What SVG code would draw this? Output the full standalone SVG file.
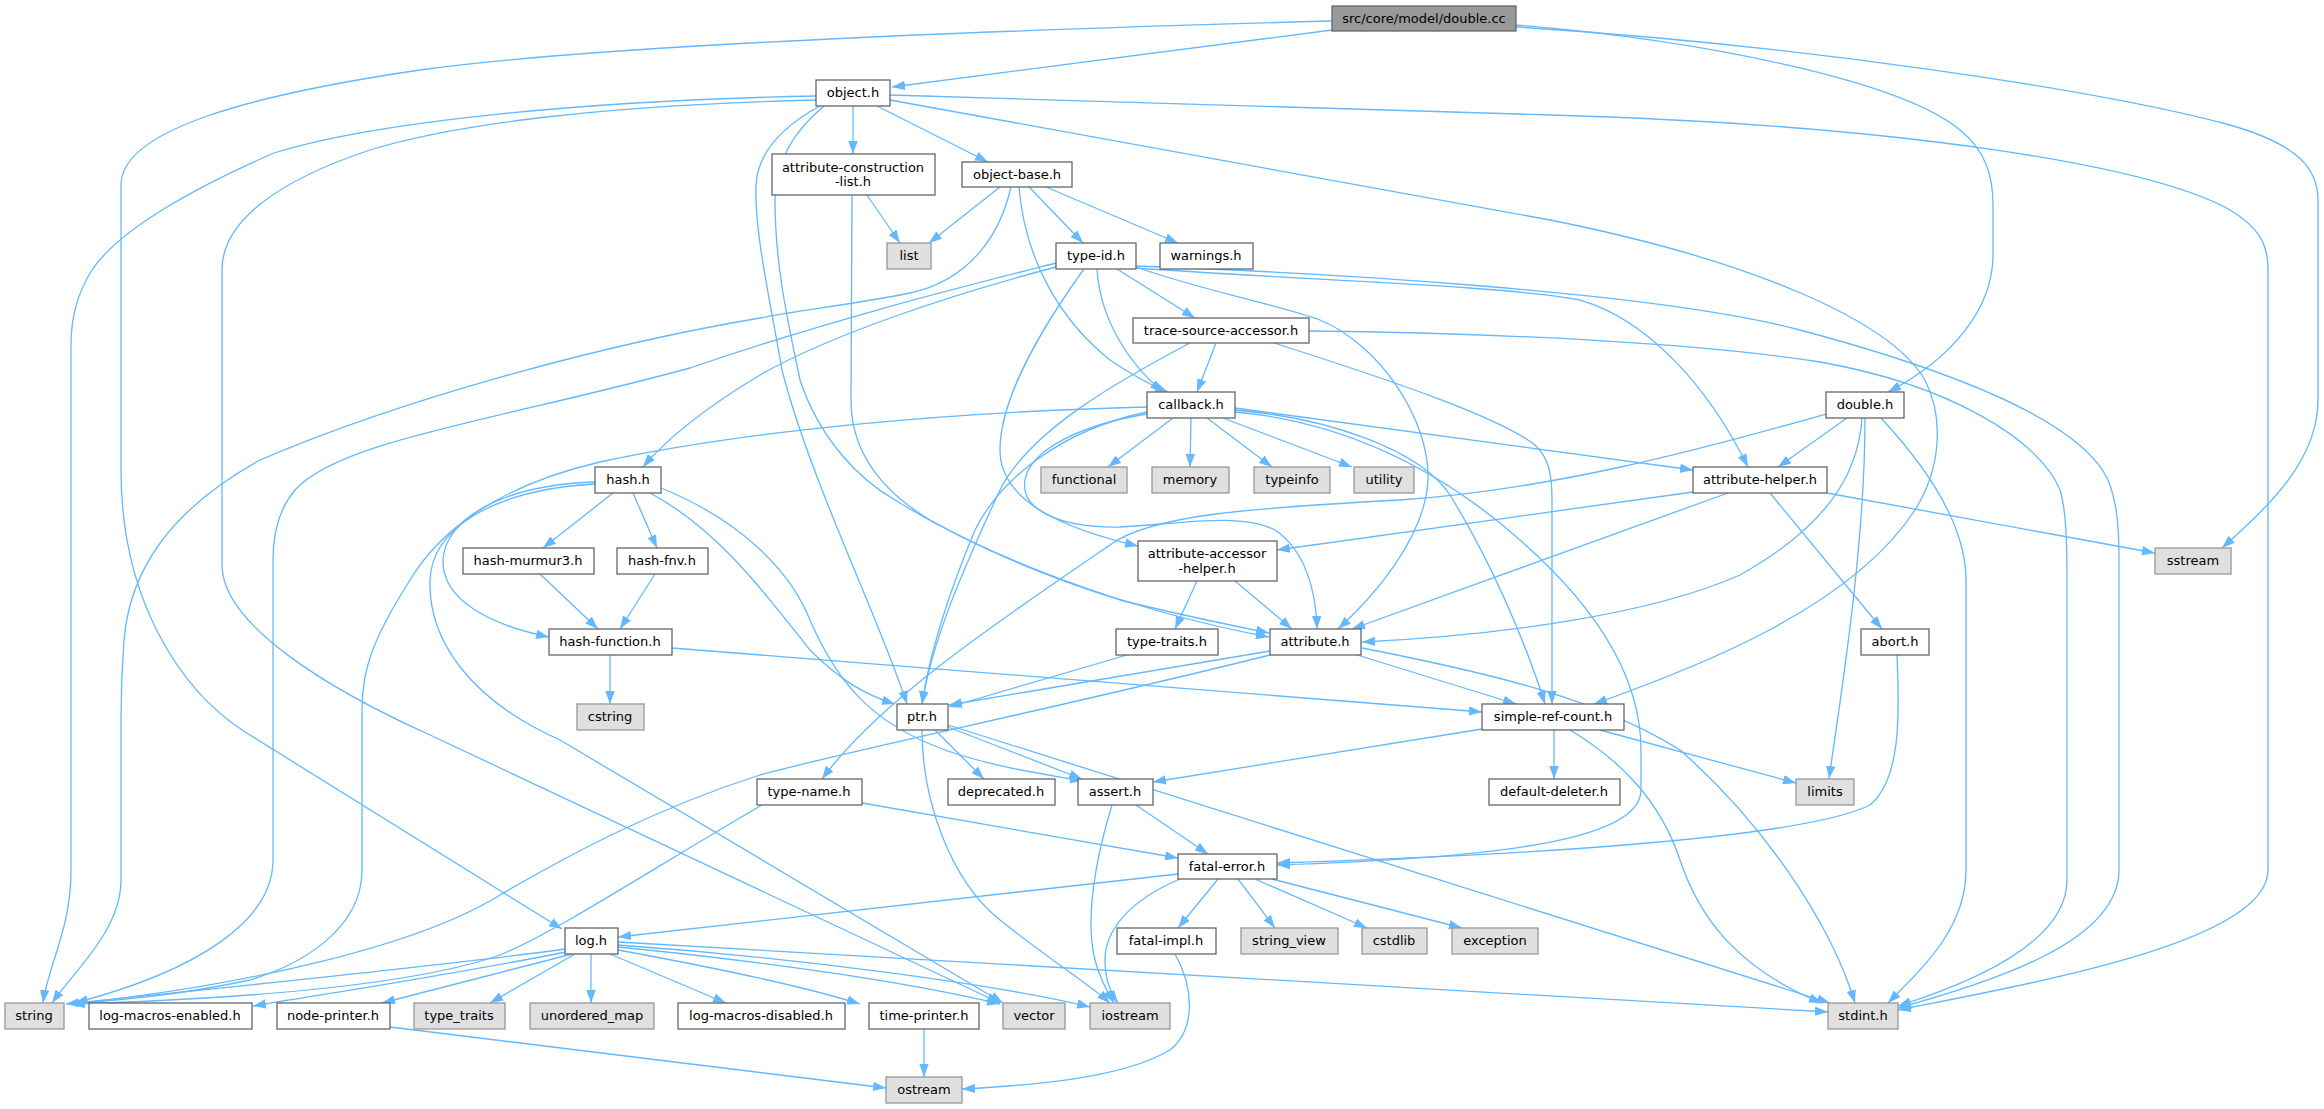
<svg xmlns="http://www.w3.org/2000/svg" width="2324" height="1109" viewBox="0 0 2324 1109">
<defs>
<marker id="a" markerUnits="userSpaceOnUse" markerWidth="14" markerHeight="10" refX="13" refY="4.7" orient="auto"><path d="M0,0 L13,4.7 L0,9.4 z" fill="#63b8ff"/></marker>
<style>
.e path{fill:none;stroke:#63b8ff;stroke-width:1.3;marker-end:url(#a)}
.w rect{fill:#ffffff;stroke:#666666;stroke-width:1.3}
.g rect{fill:#e0e0e0;stroke:#999999;stroke-width:1.3}
.r rect{fill:#999999;stroke:#666666;stroke-width:1.3}
text{font-family:"DejaVu Sans","Liberation Sans",sans-serif;font-size:13px;fill:#000;text-anchor:middle}
</style>
</defs>
<rect width="2324" height="1109" fill="#ffffff"/>
<g id="edges" class="e">
<path d="M1332,30 L892,87"/>
<path d="M1332,21 C1000,30 600,45 420,70 C250,95 121,130 121,185 L121,470 C121,600 180,690 245,732 L562,929"/>
<path d="M1516,25 C1700,40 1900,80 1960,130 C1985,150 1993,175 1993,205 L1993,255 C1993,310 1950,360 1888,392"/>
<path d="M1516,27 C1800,45 2100,90 2230,125 C2300,145 2318,170 2318,200 L2318,400 C2318,460 2270,505 2222,548"/>
<path d="M853,106 L853,154"/>
<path d="M877,106 L988,162"/>
<path d="M816,96 C600,100 380,120 274,153 C200,185 120,228 92,270 C76,295 71,320 71,345 L71,870 C71,930 48,965 43,1003"/>
<path d="M816,100 C600,105 450,125 370,150 C280,180 222,220 222,270 L222,565 C222,625 330,690 430,735 L1000,1003"/>
<path d="M820,106 C785,125 758,150 756,185 C754,230 770,300 782,370 C810,480 880,620 907,704"/>
<path d="M824,106 C795,130 775,160 775,200 C775,270 790,330 800,380 C820,440 860,480 895,500 C960,540 1040,575 1120,600 C1180,615 1230,625 1269,633"/>
<path d="M890,100 L1550,220 C1750,260 1890,320 1925,380 C1945,420 1940,470 1915,510 C1850,610 1690,670 1594,704"/>
<path d="M890,95 L1550,115 C1900,125 2150,165 2230,210 C2260,228 2268,245 2268,270 L2268,870 C2268,940 2050,980 1898,1010"/>
<path d="M867,195 L900,243"/>
<path d="M852,195 L851,400 C851,450 880,490 930,520 C1020,570 1150,615 1269,637"/>
<path d="M1000,187 L929,243"/>
<path d="M1011,187 C1000,235 970,280 910,293 C850,305 800,310 760,318 C600,345 400,400 260,460 C170,510 130,570 124,640 C121,680 121,700 121,720 L121,880 C121,930 75,970 52,1003"/>
<path d="M1029,187 L1083,243"/>
<path d="M1046,187 L1178,243"/>
<path d="M1019,187 C1025,260 1060,320 1110,360 C1140,380 1155,387 1168,392"/>
<path d="M1056,267 C950,295 830,335 760,375 C710,405 670,435 643,467"/>
<path d="M1056,263 C950,290 830,320 690,368 C500,420 340,440 295,490 C278,510 273,535 273,560 L273,860 C273,920 200,970 75,1003"/>
<path d="M1097,269 C1100,320 1130,365 1163,392"/>
<path d="M1117,269 L1195,318"/>
<path d="M1084,269 C1040,330 1000,400 1000,450 C1000,500 1060,528 1138,546"/>
<path d="M1136,267 C1200,290 1280,305 1320,320 C1380,345 1430,420 1428,480 C1425,540 1370,600 1338,629"/>
<path d="M1136,268 C1300,280 1500,285 1580,300 C1650,320 1710,390 1748,467"/>
<path d="M1136,266 C1300,272 1650,290 1800,330 C1950,370 2080,420 2108,480 C2116,500 2119,520 2119,560 L2119,870 C2119,940 2000,980 1898,1008"/>
<path d="M1216,343 L1197,392"/>
<path d="M1190,343 C1120,380 1030,430 1000,490 C965,565 932,640 922,704"/>
<path d="M1274,343 C1400,383 1500,418 1535,445 C1549,458 1552,475 1552,500 L1552,704"/>
<path d="M1309,331 C1500,333 1700,343 1820,362 C1950,385 2040,440 2060,490 C2066,510 2067,540 2067,580 L2067,880 C2067,940 1980,980 1898,1006"/>
<path d="M1173,418 L1108,467"/>
<path d="M1191,418 L1190,467"/>
<path d="M1207,418 L1272,467"/>
<path d="M1223,418 L1352,467"/>
<path d="M1147,407 C950,412 750,430 600,462 C500,485 440,530 410,580 C372,640 362,670 362,710 L362,870 C362,930 300,965 250,980 C180,995 120,1000 72,1004"/>
<path d="M1147,412 C1060,430 1000,480 975,530 C950,590 930,650 922,704"/>
<path d="M1147,414 C1080,425 1030,450 1025,480 C1020,510 1060,528 1120,527 C1180,524 1240,512 1275,530 C1305,550 1316,590 1317,629"/>
<path d="M1235,408 L1693,470"/>
<path d="M1235,410 C1330,418 1420,450 1450,495 C1490,560 1525,640 1545,704"/>
<path d="M1235,412 C1330,420 1430,460 1520,540 C1600,610 1641,680 1641,750 L1641,790 C1641,840 1500,858 1277,865"/>
<path d="M1847,418 L1778,467"/>
<path d="M1865,418 C1865,550 1840,700 1829,779"/>
<path d="M1881,418 C1920,460 1966,520 1966,580 L1966,870 C1966,930 1920,970 1888,1003"/>
<path d="M1862,418 C1858,480 1820,530 1740,575 C1650,615 1500,635 1362,642"/>
<path d="M1826,414 C1700,450 1550,490 1400,500 C1250,508 1150,515 1110,545 C1000,620 880,700 822,779"/>
<path d="M1827,493 L2155,553"/>
<path d="M1770,493 L1882,629"/>
<path d="M1693,492 L1277,550"/>
<path d="M1728,493 L1352,629"/>
<path d="M1897,655 C1900,720 1900,780 1870,805 C1800,840 1500,856 1277,863"/>
<path d="M1197,581 L1175,629"/>
<path d="M1235,581 L1292,629"/>
<path d="M1127,655 L949,707"/>
<path d="M1270,651 L949,705"/>
<path d="M1270,655 C1050,710 850,750 760,775 C650,810 560,860 500,895 C420,945 250,985 72,1004"/>
<path d="M1357,655 L1516,704"/>
<path d="M1362,648 C1500,675 1600,700 1680,750 C1760,820 1830,920 1855,1003"/>
<path d="M935,730 L984,779"/>
<path d="M948,727 L1082,779"/>
<path d="M922,730 C922,800 950,880 1000,920 C1050,960 1090,985 1110,1003"/>
<path d="M948,725 L1830,1003"/>
<path d="M613,493 L543,548"/>
<path d="M633,493 L657,548"/>
<path d="M595,482 C500,485 445,520 443,560 C442,600 490,625 549,637"/>
<path d="M595,484 C490,490 432,530 430,580 C428,640 470,700 560,740 L1003,1003"/>
<path d="M650,493 C720,530 770,600 810,650 C840,680 865,695 895,704"/>
<path d="M661,488 C740,520 790,570 810,620 C840,690 880,730 960,755 C1010,770 1050,775 1083,781"/>
<path d="M540,574 L598,629"/>
<path d="M655,574 L620,629"/>
<path d="M610,655 L610,704"/>
<path d="M672,648 L1482,712"/>
<path d="M1482,729 L1153,782"/>
<path d="M1554,730 L1554,779"/>
<path d="M1600,730 L1796,783"/>
<path d="M1570,730 C1620,760 1660,800 1680,860 C1700,920 1740,970 1822,1003"/>
<path d="M1136,805 L1208,854"/>
<path d="M1112,805 C1095,860 1085,920 1095,960 C1100,980 1108,993 1114,1003"/>
<path d="M862,803 L1178,858"/>
<path d="M762,805 C650,870 560,930 500,955 C400,990 200,1000 72,1004"/>
<path d="M1178,874 L618,937"/>
<path d="M1218,879 L1178,928"/>
<path d="M1238,879 L1275,928"/>
<path d="M1255,879 L1367,928"/>
<path d="M1272,879 L1462,928"/>
<path d="M1180,879 C1130,900 1105,930 1105,960 C1105,980 1112,995 1118,1003"/>
<path d="M1175,954 C1195,990 1195,1030 1170,1050 C1120,1080 1020,1086 962,1089"/>
<path d="M565,949 C450,965 250,985 66,1004"/>
<path d="M566,952 C450,975 350,990 253,1006"/>
<path d="M572,954 L382,1003"/>
<path d="M575,954 L490,1003"/>
<path d="M591,954 L591,1003"/>
<path d="M610,954 L726,1003"/>
<path d="M618,950 C700,965 800,985 860,1004"/>
<path d="M618,947 C750,960 900,980 1000,1004"/>
<path d="M618,945 C800,958 1000,985 1090,1007"/>
<path d="M618,942 L1828,1012"/>
<path d="M390,1027 L886,1088"/>
<path d="M924,1029 L924,1077"/>
</g>
<g id="n_double_cc" class="r"><rect x="1332" y="6" width="184" height="25"/><text x="1424" y="23">src/core/model/double.cc</text></g>
<g id="n_object_h" class="w"><rect x="816" y="80" width="74" height="26"/><text x="853" y="97">object.h</text></g>
<g id="n_attribute_construction_list_h" class="w"><rect x="772" y="154" width="163" height="41"/><text x="853" y="172">attribute-construction</text><text x="853" y="186">-list.h</text></g>
<g id="n_object_base_h" class="w"><rect x="962" y="162" width="110" height="25"/><text x="1017" y="179">object-base.h</text></g>
<g id="n_list" class="g"><rect x="887" y="243" width="44" height="26"/><text x="909" y="260">list</text></g>
<g id="n_type_id_h" class="w"><rect x="1056" y="243" width="80" height="26"/><text x="1096" y="260">type-id.h</text></g>
<g id="n_warnings_h" class="w"><rect x="1160" y="243" width="93" height="26"/><text x="1206" y="260">warnings.h</text></g>
<g id="n_trace_source_accessor_h" class="w"><rect x="1133" y="318" width="176" height="25"/><text x="1221" y="335">trace-source-accessor.h</text></g>
<g id="n_callback_h" class="w"><rect x="1147" y="392" width="88" height="26"/><text x="1191" y="409">callback.h</text></g>
<g id="n_double_h" class="w"><rect x="1826" y="392" width="78" height="26"/><text x="1865" y="409">double.h</text></g>
<g id="n_hash_h" class="w"><rect x="595" y="467" width="66" height="26"/><text x="628" y="484">hash.h</text></g>
<g id="n_functional" class="g"><rect x="1041" y="467" width="86" height="26"/><text x="1084" y="484">functional</text></g>
<g id="n_memory" class="g"><rect x="1152" y="467" width="77" height="26"/><text x="1190" y="484">memory</text></g>
<g id="n_typeinfo" class="g"><rect x="1254" y="467" width="76" height="26"/><text x="1292" y="484">typeinfo</text></g>
<g id="n_utility" class="g"><rect x="1354" y="467" width="60" height="26"/><text x="1384" y="484">utility</text></g>
<g id="n_attribute_helper_h" class="w"><rect x="1693" y="467" width="134" height="26"/><text x="1760" y="484">attribute-helper.h</text></g>
<g id="n_hash_murmur3_h" class="w"><rect x="463" y="548" width="131" height="26"/><text x="528" y="565">hash-murmur3.h</text></g>
<g id="n_hash_fnv_h" class="w"><rect x="617" y="548" width="91" height="26"/><text x="662" y="565">hash-fnv.h</text></g>
<g id="n_attribute_accessor_helper_h" class="w"><rect x="1138" y="541" width="139" height="40"/><text x="1207" y="558">attribute-accessor</text><text x="1207" y="573">-helper.h</text></g>
<g id="n_sstream" class="g"><rect x="2155" y="548" width="76" height="26"/><text x="2193" y="565">sstream</text></g>
<g id="n_hash_function_h" class="w"><rect x="549" y="629" width="123" height="26"/><text x="610" y="646">hash-function.h</text></g>
<g id="n_type_traits_h" class="w"><rect x="1116" y="629" width="102" height="26"/><text x="1167" y="646">type-traits.h</text></g>
<g id="n_attribute_h" class="w"><rect x="1270" y="629" width="91" height="26"/><text x="1315" y="646">attribute.h</text></g>
<g id="n_abort_h" class="w"><rect x="1861" y="629" width="68" height="26"/><text x="1895" y="646">abort.h</text></g>
<g id="n_cstring" class="g"><rect x="577" y="704" width="67" height="26"/><text x="610" y="721">cstring</text></g>
<g id="n_ptr_h" class="w"><rect x="897" y="704" width="51" height="26"/><text x="922" y="721">ptr.h</text></g>
<g id="n_simple_ref_count_h" class="w"><rect x="1482" y="704" width="142" height="26"/><text x="1553" y="721">simple-ref-count.h</text></g>
<g id="n_type_name_h" class="w"><rect x="757" y="779" width="105" height="26"/><text x="809" y="796">type-name.h</text></g>
<g id="n_deprecated_h" class="w"><rect x="948" y="779" width="107" height="26"/><text x="1001" y="796">deprecated.h</text></g>
<g id="n_assert_h" class="w"><rect x="1078" y="779" width="75" height="26"/><text x="1115" y="796">assert.h</text></g>
<g id="n_default_deleter_h" class="w"><rect x="1489" y="779" width="131" height="26"/><text x="1554" y="796">default-deleter.h</text></g>
<g id="n_limits" class="g"><rect x="1796" y="779" width="58" height="26"/><text x="1825" y="796">limits</text></g>
<g id="n_fatal_error_h" class="w"><rect x="1178" y="854" width="99" height="25"/><text x="1227" y="871">fatal-error.h</text></g>
<g id="n_log_h" class="w"><rect x="565" y="928" width="53" height="26"/><text x="591" y="945">log.h</text></g>
<g id="n_fatal_impl_h" class="w"><rect x="1117" y="928" width="99" height="26"/><text x="1166" y="945">fatal-impl.h</text></g>
<g id="n_string_view" class="g"><rect x="1241" y="928" width="97" height="26"/><text x="1289" y="945">string_view</text></g>
<g id="n_cstdlib" class="g"><rect x="1362" y="928" width="65" height="26"/><text x="1394" y="945">cstdlib</text></g>
<g id="n_exception" class="g"><rect x="1452" y="928" width="86" height="26"/><text x="1495" y="945">exception</text></g>
<g id="n_string" class="g"><rect x="5" y="1003" width="59" height="26"/><text x="34" y="1020">string</text></g>
<g id="n_log_macros_enabled_h" class="w"><rect x="89" y="1003" width="163" height="26"/><text x="170" y="1020">log-macros-enabled.h</text></g>
<g id="n_node_printer_h" class="w"><rect x="277" y="1003" width="113" height="26"/><text x="333" y="1020">node-printer.h</text></g>
<g id="n_type_traits" class="g"><rect x="414" y="1003" width="91" height="26"/><text x="459" y="1020">type_traits</text></g>
<g id="n_unordered_map" class="g"><rect x="530" y="1003" width="124" height="26"/><text x="592" y="1020">unordered_map</text></g>
<g id="n_log_macros_disabled_h" class="w"><rect x="678" y="1003" width="167" height="26"/><text x="761" y="1020">log-macros-disabled.h</text></g>
<g id="n_time_printer_h" class="w"><rect x="869" y="1003" width="110" height="26"/><text x="924" y="1020">time-printer.h</text></g>
<g id="n_vector" class="g"><rect x="1003" y="1003" width="62" height="26"/><text x="1034" y="1020">vector</text></g>
<g id="n_iostream" class="g"><rect x="1090" y="1003" width="80" height="26"/><text x="1130" y="1020">iostream</text></g>
<g id="n_stdint_h" class="g"><rect x="1828" y="1003" width="70" height="26"/><text x="1863" y="1020">stdint.h</text></g>
<g id="n_ostream" class="g"><rect x="886" y="1077" width="76" height="26"/><text x="924" y="1094">ostream</text></g>
</svg>
